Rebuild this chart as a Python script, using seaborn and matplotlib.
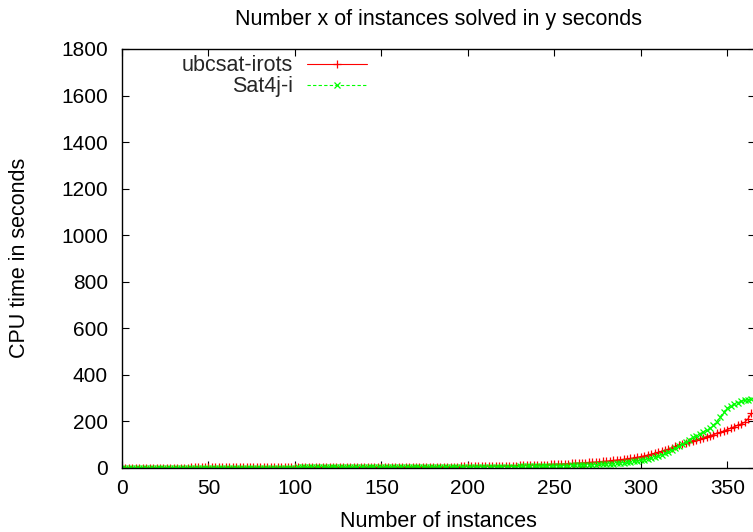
import matplotlib
matplotlib.use('Agg')
import matplotlib.pyplot as plt
import numpy as np
import pandas as pd
import seaborn as sns

sns.set_theme(style='white')
plt.rcParams['font.family'] = ['Liberation Sans', 'DejaVu Sans']

# ===============================================================================
# data read off the picture (sampled every 2 instances)

instances = list(range(0, 365, 2))

ubcsat_irots = [
    0.1, 0.1, 0.2, 0.2, 0.2, 0.3, 0.3, 0.3, 0.4, 0.4,
    0.4, 0.5, 0.5, 0.5, 0.6, 0.6, 0.6, 0.7, 0.7, 0.7,
    0.8, 0.8, 0.8, 0.9, 0.9, 0.9, 1.0, 1.0, 1.0, 1.1,
    1.1, 1.1, 1.2, 1.2, 1.2, 1.3, 1.3, 1.3, 1.4, 1.4,
    1.4, 1.5, 1.5, 1.5, 1.6, 1.6, 1.6, 1.7, 1.7, 1.8,
    1.8, 1.8, 1.9, 1.9, 2.0, 2.0, 2.0, 2.1, 2.1, 2.2,
    2.2, 2.2, 2.3, 2.3, 2.4, 2.4, 2.5, 2.5, 2.6, 2.6,
    2.7, 2.7, 2.8, 2.8, 2.9, 2.9, 3.0, 3.0, 3.1, 3.2,
    3.2, 3.3, 3.4, 3.4, 3.5, 3.6, 3.7, 3.8, 3.9, 4.0,
    4.1, 4.2, 4.3, 4.4, 4.5, 4.7, 4.8, 5.0, 5.1, 5.3,
    5.5, 5.7, 5.9, 6.1, 6.3, 6.5, 6.8, 7.0, 7.3, 7.6,
    7.9, 8.2, 8.5, 8.9, 9.2, 9.6, 10.0, 10.4, 10.8, 11.3,
    11.8, 12.3, 12.8, 13.3, 13.9, 14.5, 15.1, 15.8, 16.5, 17.2,
    18.0, 18.8, 19.6, 20.5, 21.4, 22.4, 23.4, 24.5, 25.6, 26.8,
    28.0, 29.5, 31.0, 32.6, 34.3, 36.0, 38.0, 40.0, 42.5, 45.0,
    48, 51, 54, 58, 62, 66, 70, 75, 80, 86,
    92, 97, 102, 107, 112, 116, 120, 125, 129, 134,
    138, 142, 147, 152, 158, 164, 170, 176, 182, 188,
    195, 210, 235,
]

sat4j_i = [
    0.0, 0.0, 0.0, 0.1, 0.1, 0.1, 0.1, 0.1, 0.1, 0.1,
    0.1, 0.1, 0.1, 0.2, 0.2, 0.2, 0.2, 0.2, 0.2, 0.2,
    0.2, 0.3, 0.3, 0.3, 0.3, 0.3, 0.3, 0.3, 0.4, 0.4,
    0.4, 0.4, 0.4, 0.4, 0.4, 0.5, 0.5, 0.5, 0.5, 0.5,
    0.5, 0.6, 0.6, 0.6, 0.6, 0.6, 0.7, 0.7, 0.7, 0.7,
    0.7, 0.8, 0.8, 0.8, 0.8, 0.9, 0.9, 0.9, 0.9, 1.0,
    1.0, 1.0, 1.0, 1.1, 1.1, 1.1, 1.2, 1.2, 1.2, 1.3,
    1.3, 1.3, 1.4, 1.4, 1.4, 1.5, 1.5, 1.6, 1.6, 1.6,
    1.7, 1.7, 1.8, 1.8, 1.9, 1.9, 2.0, 2.0, 2.1, 2.2,
    2.2, 2.3, 2.4, 2.4, 2.5, 2.6, 2.7, 2.8, 2.9, 3.0,
    3.1, 3.2, 3.3, 3.4, 3.5, 3.6, 3.8, 3.9, 4.0, 4.2,
    4.3, 4.5, 4.6, 4.8, 5.0, 5.2, 5.4, 5.6, 5.8, 6.0,
    6.2, 6.5, 6.7, 7.0, 7.3, 7.6, 7.9, 8.2, 8.6, 9.0,
    9.4, 9.8, 10.3, 10.8, 11.3, 11.9, 12.5, 13.2, 14.0, 14.8,
    15.7, 16.7, 17.8, 19.0, 20.3, 21.7, 23.2, 24.8, 26.6, 28.6,
    31, 34, 37, 41, 45, 50, 56, 62, 69, 76,
    84, 93, 102, 112, 121, 130, 138, 146, 154, 162,
    170, 182, 198, 220, 240, 255, 265, 273, 280, 285,
    289, 292, 296,
]

labels = ['ubcsat-irots', 'Sat4j-i']
xticks = [0, 50, 100, 150, 200, 250, 300, 350]
yticks = [0, 200, 400, 600, 800, 1000, 1200, 1400, 1600, 1800]

# ===============================================================================

df = pd.DataFrame({'n': instances, labels[0]: ubcsat_irots, labels[1]: sat4j_i})

fig = plt.figure(figsize=(7.53, 5.32), dpi=100)
ax = fig.add_axes([0.162, 0.1209, 0.8406, 0.787])

sns.lineplot(x='n', y=labels[0], data=df, ax=ax, color='#ff0000', legend=False)
sns.lineplot(x='n', y=labels[1], data=df, ax=ax, color='#00ff00', legend=False)

# gnuplot style: points + lines
red, green = ax.lines[0], ax.lines[1]
red.set(linewidth=0.8, linestyle='-', marker='+', markersize=6,
        markeredgewidth=0.9, markeredgecolor='#ff0000')
green.set(linewidth=0.8, linestyle=(0, (3, 2)), marker='x', markersize=4.5,
          markeredgewidth=0.9, markeredgecolor='#00ff00')

ax.set_xlim(0, 366)
ax.set_ylim(0, 1800)
ax.set_xticks(xticks)
ax.set_yticks(yticks)
ax.tick_params(axis='both', direction='in', length=5, width=0.8, color='black',
               top=True, right=True, bottom=True, left=True,
               labelsize=15, labelcolor='black')
ax.tick_params(axis='y', pad=10)
ax.tick_params(axis='x', pad=8)
for s in ax.spines.values():
    s.set_color('black')
    s.set_linewidth(1)

ax.set_xlabel('Number of instances', fontsize=15.5, color='black')
ax.set_ylabel('CPU time in seconds', fontsize=15.5, color='black')
ax.xaxis.set_label_coords(0.5, -0.1034)
ax.yaxis.set_label_coords(-0.146, 0.5)
ax.set_title('Number x of instances solved in y seconds', fontsize=15.5,
             pad=17, color='black')

ax.legend(handles=[red, green], labels=labels, loc='upper right',
          bbox_to_anchor=(0.387, 0.985), frameon=False,
          markerfirst=False, fontsize=15.5, handlelength=2.8, handletextpad=0.65,
          labelspacing=0.0, borderpad=0, borderaxespad=0, numpoints=1)

plt.savefig('out.png', dpi=100)
